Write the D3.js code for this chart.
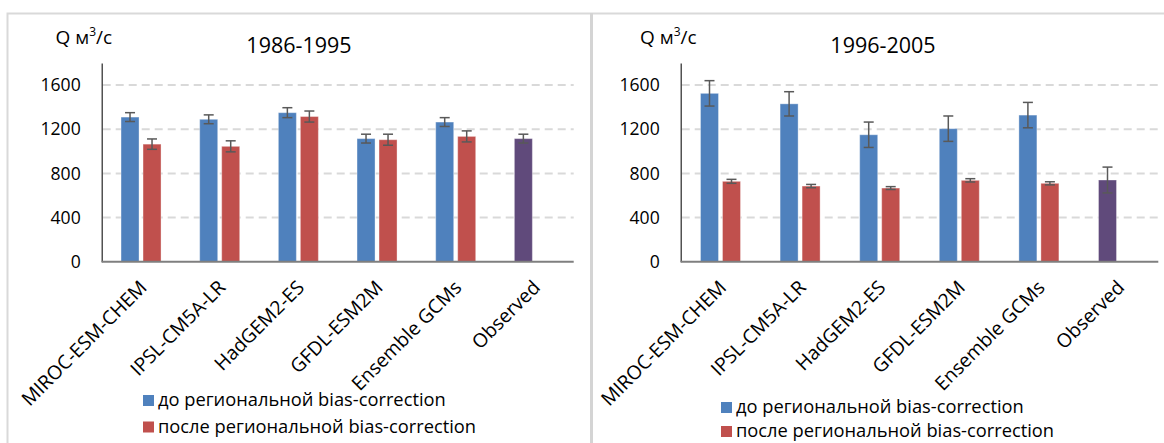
<!DOCTYPE html>
<html><head><meta charset="utf-8">
<script src="https://cdn.jsdelivr.net/npm/d3@7"></script>
<style>
html,body{margin:0;padding:0;background:#fff;}
svg{display:block;font-family:"Open Sans",sans-serif;}
</style></head>
<body>
<svg id="c" width="1164" height="443"></svg>
<script>
const categories = ["MIROC-ESM-CHEM","IPSL-CM5A-LR","HadGEM2-ES","GFDL-ESM2M","Ensemble GCMs","Observed"];
const seriesNames = ["до региональной bias-correction","после региональной bias-correction"];
const yTicks = [0,400,800,1200,1600];
const titles = ["1986-1995","1996-2005"];

// 1986-1995
const before1 = [1310,1290,1350,1115,1265,1115];
const beforeErr1 = [40,40,45,40,40,40];
const after1 = [1065,1045,1315,1105,1135,null];
const afterErr1 = [47,50,50,50,50,null];
// 1996-2005
const before2 = [1525,1430,1150,1205,1328,740];
const beforeErr2 = [115,110,115,115,115,117];
const after2 = [728,685,667,737,710,null];
const afterErr2 = [18,15,13,15,14,null];

const colors = {before:"#4F81BD", after:"#C0504D", observed:"#604A7B"};

const svg = d3.select("#c");
svg.append("rect").attr("width",1164).attr("height",443).attr("fill","#fff");

// panel frames
svg.append("path").attr("d","M7.5,443 V13.5 H591").attr("fill","none").attr("stroke","#d9d9d9").attr("stroke-width",2);
svg.append("path").attr("d","M592,443 V13.5 H1164").attr("fill","none").attr("stroke","#d9d9d9").attr("stroke-width",2);
svg.append("line").attr("x1",591.5).attr("x2",591.5).attr("y1",13).attr("y2",443).attr("stroke","#d4d4d4").attr("stroke-width",3);

const panels = [
  {x0:101.7, x1:573.7, before:before1, bErr:beforeErr1, after:after1, aErr:afterErr1, title:titles[0], titleX:299, ylabX:55.5, legX:143, legY:[406,432.5]},
  {x0:680.7, x1:1158.3, before:before2, bErr:beforeErr2, after:after2, aErr:afterErr2, title:titles[1], titleX:883, ylabX:640, legX:721, legY:[413,437]}
];

const yTop = 63, yBase = 261.7;
const y = d3.scaleLinear().domain([0,1800]).range([yBase,yTop]);

panels.forEach(p => {
  const g = svg.append("g");
  const x = d3.scaleBand().domain(categories).range([p.x0,p.x1]).paddingInner(0).paddingOuter(0);
  const xs = d3.scaleBand().domain(["before","after"]).range([-20,20]).paddingInner(4/22);

  // gridlines
  g.selectAll(".grid").data(yTicks.filter(d=>d>0)).enter().append("line")
    .attr("x1",p.x0+1).attr("x2",p.x1)
    .attr("y1",d=>y(d)).attr("y2",d=>y(d))
    .attr("stroke","#d9d9d9").attr("stroke-width",2).attr("stroke-dasharray","8,5");

  // y axis
  const ya = d3.axisLeft(y).tickValues(yTicks).tickSize(0).tickPadding(21).tickFormat(d3.format("d"));
  const yg = g.append("g").attr("transform",`translate(${p.x0},0)`).call(ya);
  yg.select(".domain").attr("stroke","#262626").attr("stroke-width",1.2);
  yg.selectAll("text").attr("font-size",17.6).attr("fill","#000").attr("font-family","Open Sans");

  // bars
  const items = [];
  categories.forEach((c,i)=>{
    items.push({c, s:"before", v:p.before[i], e:p.bErr[i], col: c==="Observed"?colors.observed:colors.before});
    if (p.after[i]!=null) items.push({c, s:"after", v:p.after[i], e:p.aErr[i], col:colors.after});
  });
  g.selectAll(".bar").data(items).enter().append("rect")
    .attr("x",d=>x(d.c)+x.bandwidth()/2+xs(d.s))
    .attr("width",xs.bandwidth())
    .attr("y",d=>y(d.v))
    .attr("height",d=>yBase-y(d.v))
    .attr("fill",d=>d.col)
    .attr("stroke","rgba(255,255,255,0.35)").attr("stroke-width",1);

  // baseline
  g.append("line").attr("x1",p.x0).attr("x2",p.x1).attr("y1",yBase).attr("y2",yBase)
    .attr("stroke","#7f7f7f").attr("stroke-width",2);

  // error bars
  const eg = g.selectAll(".err").data(items).enter().append("g")
    .attr("transform",d=>`translate(${x(d.c)+x.bandwidth()/2+xs(d.s)+xs.bandwidth()/2},0)`);
  eg.append("line").attr("x1",0).attr("x2",0).attr("y1",d=>y(d.v+d.e)).attr("y2",d=>y(d.v-d.e))
    .attr("stroke","#595959").attr("stroke-width",1.5);
  eg.append("line").attr("x1",-5).attr("x2",5).attr("y1",d=>y(d.v+d.e)).attr("y2",d=>y(d.v+d.e))
    .attr("stroke","#595959").attr("stroke-width",1.5);
  eg.append("line").attr("x1",-5).attr("x2",5).attr("y1",d=>y(d.v-d.e)).attr("y2",d=>y(d.v-d.e))
    .attr("stroke","#595959").attr("stroke-width",1.5);

  // x labels
  g.selectAll(".xl").data(categories).enter().append("text")
    .attr("transform",d=>`translate(${x(d)+x.bandwidth()/2+7},${yBase+27}) rotate(-45)`)
    .attr("text-anchor","end").attr("font-size",19.3).attr("fill","#000")
    .text(d=>d);

  // title
  g.append("text").attr("x",p.titleX).attr("y",52.5).attr("text-anchor","middle")
    .attr("font-size",21.5).attr("fill","#000").text(p.title);

  // y label
  const yl = g.append("text").attr("x",p.ylabX).attr("y",44).attr("font-size",19).attr("fill","#000");
  yl.append("tspan").text("Q м");
  yl.append("tspan").attr("font-size",12).attr("dy",-8).text("3");
  yl.append("tspan").attr("dy",8).text("/с");

  // legend
  const lg = g.selectAll(".leg").data(seriesNames).enter().append("g")
    .attr("transform",(d,i)=>`translate(${p.legX},${p.legY[i]})`);
  lg.append("rect").attr("x",0).attr("y",-11).attr("width",11).attr("height",11)
    .attr("fill",(d,i)=>i===0?colors.before:colors.after);
  lg.append("text").attr("x",15).attr("y",0).attr("font-size",18.3).attr("fill","#000").text(d=>d);
});
</script>
</body></html>
